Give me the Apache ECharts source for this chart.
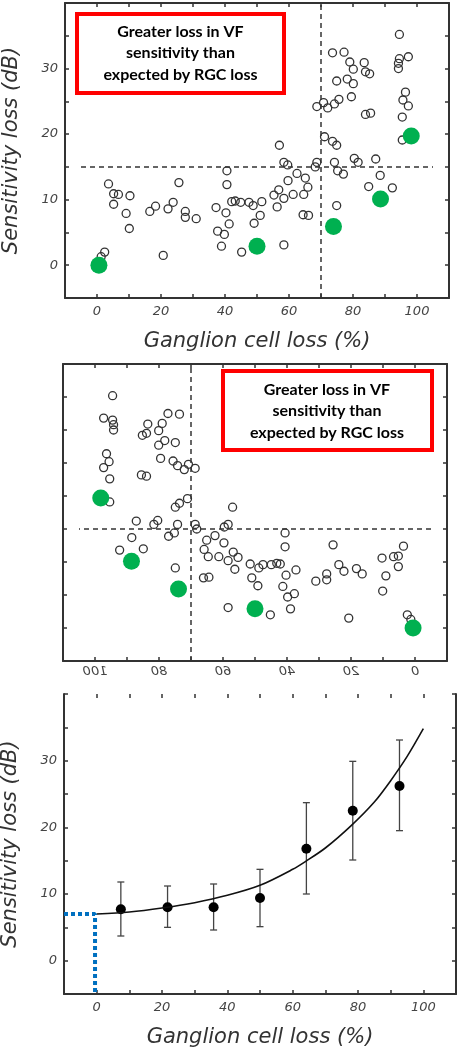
<!DOCTYPE html>
<html>
<head>
<meta charset="utf-8">
<script src="https://cdn.jsdelivr.net/npm/echarts@6/dist/echarts.min.js"></script>
<style>
html,body{margin:0;padding:0;background:#fff;}
#c{width:468px;height:1050px;}
</style>
</head>
<body>
<div id="c"></div>
<script>
// ---- Data ----
// Panels 1 & 2: individual eyes (ganglion cell loss %, sensitivity loss dB)
const circleX = [2.4,1.3,3.6,5.2,6.7,10.3,5.2,9.1,10.1,16.5,18.3,20.7,22.2,23.8,25.6,27.6,27.6,31.0,37.2,37.7,38.9,39.8,40.6,40.6,40.3,41.3,42.1,43.2,45.2,44.9,47.5,48.8,49.1,51.0,51.5,55.3,56.3,56.8,57.0,58.4,58.4,58.4,59.6,59.7,61.3,62.5,64.6,64.4,65.1,65.9,66.1,68.2,68.7,68.7,70.8,71.1,72.1,73.6,74.2,73.6,74.9,74.2,74.9,74.9,75.2,75.6,77.0,77.2,78.2,79.0,79.5,80.1,80.1,80.4,81.6,83.5,83.9,83.9,85.2,85.5,84.9,87.1,88.5,92.3,94.5,94.5,94.2,94.2,97.3,96.4,95.6,97.3,95.4,95.4];
const circleY = [2.0,1.3,12.4,10.9,10.8,10.6,9.3,7.9,5.6,8.2,9.0,1.5,8.6,9.6,12.6,8.2,7.3,7.1,8.8,5.2,2.9,4.7,14.4,12.3,8.0,6.3,9.7,9.8,2.0,9.6,9.6,9.1,6.4,7.6,9.7,10.7,8.9,11.5,18.3,3.1,10.2,15.7,15.3,12.9,10.8,14.0,10.8,7.7,13.3,11.9,7.6,15.0,15.7,24.2,24.8,19.6,24.0,32.4,24.6,18.9,18.3,15.7,28.1,9.1,14.4,25.3,13.9,32.5,28.4,31.0,25.7,27.7,29.9,16.3,15.7,30.9,23.0,29.5,29.2,23.2,12.0,16.2,13.7,11.8,35.2,31.5,30.8,30.0,31.8,26.4,25.2,24.3,22.6,19.1];
const greenX = [0.6, 50.0, 73.9, 88.6, 98.2];
const greenY = [0.0, 2.9, 5.9, 10.1, 19.7];
// dashed reference lines
const refVLineX = [70, 70];
const refVLineY = [-5, 40];
const refHLineX = [-5, 105];
const refHLineY = [15, 15];
// Panel 3: binned means with error bars
const meanX = [7.4, 21.7, 35.8, 50.0, 64.2, 78.4, 92.7];
const meanY = [7.7, 8.0, 8.0, 9.4, 16.8, 22.5, 26.2];
const errLow = [3.7, 5.0, 4.6, 5.1, 10.0, 15.1, 19.5];
const errHigh = [11.8, 11.2, 11.5, 13.7, 23.7, 29.9, 33.1];
// fitted curve
const fitX = [0, 10, 20, 30, 40, 50, 60, 64, 70, 78, 85, 90, 95, 100];
const fitY = [7.0, 7.3, 7.9, 8.7, 9.8, 11.3, 13.7, 14.9, 16.9, 20.3, 23.8, 27.0, 30.6, 34.8];
// blue dotted guide
const guideX = [-10, -0.5, -0.5];
const guideY = [7, 7, -5];
// tick labels
const xTickLabels = [0, 20, 40, 60, 80, 100];
const yTickLabels = [0, 10, 20, 30];

const boxText = 'Greater loss in VF\nsensitivity than\nexpected by RGC loss';
const tickFont = {fontFamily: 'DejaVu Sans', fontStyle: 'italic', fontSize: 13, color: '#444'};
const nameFont = {fontFamily: 'DejaVu Sans', fontStyle: 'italic', fontSize: 21, color: '#333'};
const frameLine = {show: true, onZero: false, lineStyle: {color: '#333', width: 2}};
const tickIn = {show: true, inside: true, length: 4, lineStyle: {color: '#333', width: 1.5}};

const chart = echarts.init(document.getElementById('c'), null, {renderer: 'canvas'});

function xAx(grid, pos, opts) {
  return Object.assign({
    type: 'value', gridIndex: grid, position: pos, min: -10, max: 110, interval: 10,
    axisLine: frameLine, axisTick: tickIn, splitLine: {show: false},
    axisLabel: {show: false}
  }, opts || {});
}
function yAx(grid, pos, opts) {
  return Object.assign({
    type: 'value', gridIndex: grid, position: pos, min: -5, max: 40, interval: 5,
    axisLine: frameLine, axisTick: tickIn, splitLine: {show: false},
    axisLabel: {show: false}
  }, opts || {});
}
const xLabel = Object.assign({show: true, margin: 7,
  formatter: v => xTickLabels.indexOf(v) >= 0 ? String(v) : ''}, tickFont);
const yLabel = Object.assign({show: true, margin: 7,
  formatter: v => yTickLabels.indexOf(v) >= 0 ? String(v) : ''}, tickFont);

const circlesData = circleX.map((x, i) => [x, circleY[i]]);
const greenData = greenX.map((x, i) => [x, greenY[i]]);
const pairs = (xs, ys) => xs.map((x, i) => [x, ys[i]]);

function scatterSeries(xi, yi) {
  return [
    {type: 'line', xAxisIndex: xi, yAxisIndex: yi, data: pairs(refVLineX, refVLineY), symbol: 'none', silent: true,
      lineStyle: {color: '#333', width: 1.5, type: [5, 4]}},
    {type: 'line', xAxisIndex: xi, yAxisIndex: yi, data: pairs(refHLineX, refHLineY), symbol: 'none', silent: true,
      lineStyle: {color: '#333', width: 1.5, type: [5, 4]}},
    {type: 'scatter', xAxisIndex: xi, yAxisIndex: yi, data: circlesData, symbol: 'circle', symbolSize: 8,
      itemStyle: {color: 'rgba(255,255,255,0)', borderColor: '#333', borderWidth: 1.3, opacity: 1}},
    {type: 'scatter', xAxisIndex: xi, yAxisIndex: yi, data: greenData, symbol: 'circle', symbolSize: 17,
      itemStyle: {color: '#00B050', opacity: 1}}
  ];
}

const option = {
  animation: false,
  backgroundColor: '#fff',
  grid: [
    {left: 65, top: 3, width: 384, height: 295, outerBoundsMode: 'none'},
    {left: 63, top: 364, width: 384, height: 297, outerBoundsMode: 'none'},
    {left: 64, top: 694, width: 392, height: 300, outerBoundsMode: 'none'}
  ],
  xAxis: [
    xAx(0, 'bottom', {axisLabel: xLabel, name: 'Ganglion cell loss (%)', nameLocation: 'middle', nameGap: 33, nameTextStyle: nameFont}),
    xAx(0, 'top'),
    xAx(1, 'bottom', {inverse: true}),
    xAx(1, 'top', {inverse: true}),
    xAx(2, 'bottom', {axisLabel: xLabel, name: 'Ganglion cell loss (%)', nameLocation: 'middle', nameGap: 33, nameTextStyle: nameFont}),
    xAx(2, 'top', {axisLine: {show: false, onZero: false}})
  ],
  yAxis: [
    yAx(0, 'left', {axisLabel: yLabel, name: 'Sensitivity loss (dB)', nameLocation: 'middle', nameGap: 43, nameTextStyle: nameFont}),
    yAx(0, 'right'),
    yAx(1, 'left'),
    yAx(1, 'right'),
    yAx(2, 'left', {axisLabel: yLabel, name: 'Sensitivity loss (dB)', nameLocation: 'middle', nameGap: 43, nameTextStyle: nameFont}),
    yAx(2, 'right')
  ],
  series: [
    ...scatterSeries(0, 0),
    ...scatterSeries(2, 2),
    {type: 'custom', xAxisIndex: 4, yAxisIndex: 4,
      data: meanX.map((x, i) => [x, errLow[i], errHigh[i]]),
      encode: {x: 0, y: [1, 2]},
      renderItem: function (params, api) {
        const x = api.value(0);
        const lo = api.coord([x, api.value(1)]);
        const hi = api.coord([x, api.value(2)]);
        const cap = 3.5;
        const st = {stroke: '#444', lineWidth: 1.3};
        return {type: 'group', children: [
          {type: 'line', shape: {x1: lo[0], y1: lo[1], x2: hi[0], y2: hi[1]}, style: st},
          {type: 'line', shape: {x1: hi[0] - cap, y1: hi[1], x2: hi[0] + cap, y2: hi[1]}, style: st},
          {type: 'line', shape: {x1: lo[0] - cap, y1: lo[1], x2: lo[0] + cap, y2: lo[1]}, style: st}
        ]};
      }},
    {type: 'line', xAxisIndex: 4, yAxisIndex: 4, data: pairs(fitX, fitY), symbol: 'none', smooth: 0.3,
      lineStyle: {color: '#111', width: 1.6}},
    {type: 'scatter', xAxisIndex: 4, yAxisIndex: 4, data: pairs(meanX, meanY), symbol: 'circle', symbolSize: 10,
      itemStyle: {color: '#000', opacity: 1}},
    {type: 'line', xAxisIndex: 4, yAxisIndex: 4, data: pairs(guideX, guideY), symbol: 'none', clip: false,
      lineStyle: {color: '#0070C0', width: 4, type: [4, 3]}}
  ],
  graphic: [
    {id: 'box1', type: 'rect', shape: {x: 77, y: 14, width: 207, height: 79}, style: {fill: '#fff', stroke: '#ff0000', lineWidth: 4}, z: 50},
    {id: 'txt1', type: 'text', x: 180.5, y: 53, z: 51, style: {text: boxText, align: 'center', verticalAlign: 'middle',
      font: 'bold 16px Lato', lineHeight: 21.5, fill: '#000'}},
    {id: 'box2', type: 'rect', shape: {x: 223, y: 371, width: 209, height: 79}, style: {fill: '#fff', stroke: '#ff0000', lineWidth: 4}, z: 50},
    {id: 'txt2', type: 'text', x: 327, y: 411, z: 51, style: {text: boxText, align: 'center', verticalAlign: 'middle',
      font: 'bold 16px Lato', lineHeight: 21.5, fill: '#000'}}
  ]
};
chart.setOption(option);

// mirrored tick labels for the flipped middle panel
const mirrored = xTickLabels.map((v, i) => {
  const px = chart.convertToPixel({xAxisIndex: 2}, v);
  return {id: 'm' + i, type: 'text', x: px, y: 672, scaleX: -1, z: 20,
    style: {text: String(v), align: 'center', verticalAlign: 'middle',
      font: 'italic 13px "DejaVu Sans"', fill: '#444'}};
});
chart.setOption({graphic: mirrored});
</script>
</body>
</html>
